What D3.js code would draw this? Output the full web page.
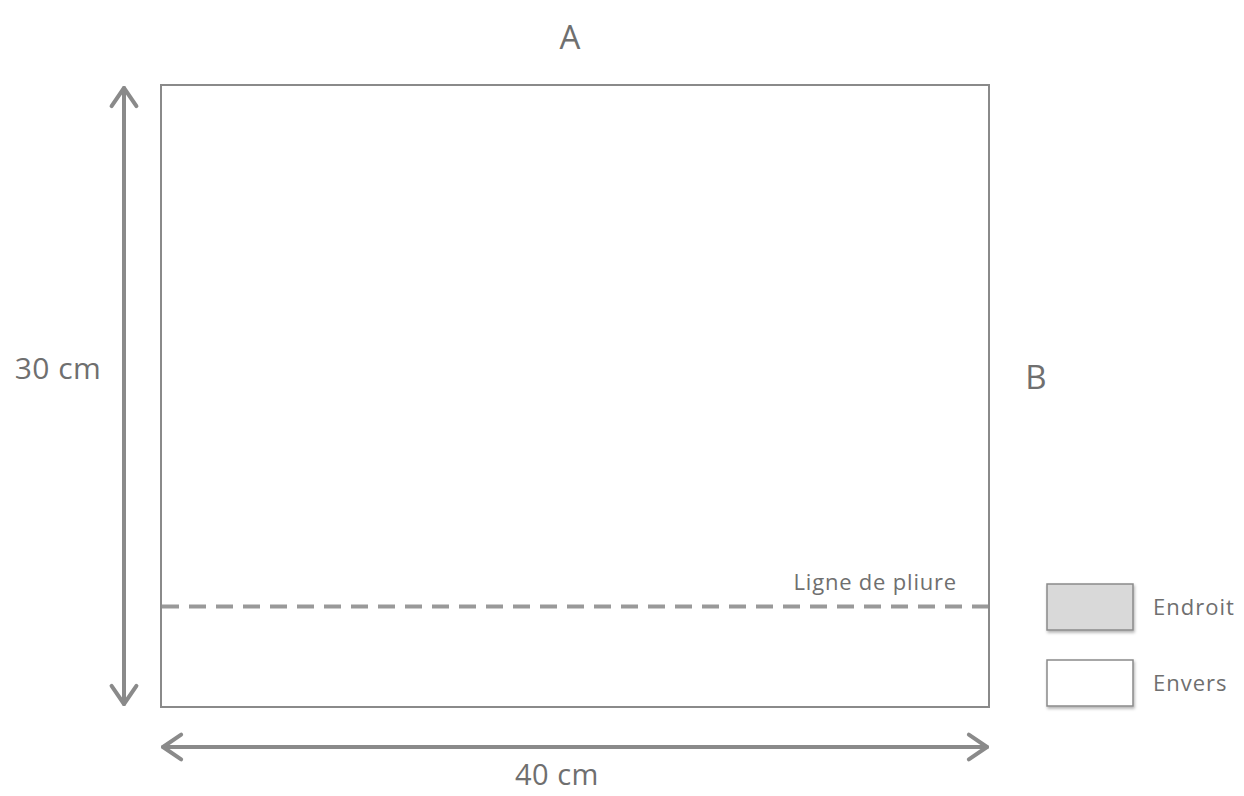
<!DOCTYPE html>
<html>
<head>
<meta charset="utf-8">
<script src="https://cdn.jsdelivr.net/npm/d3@7"></script>
<style>
  body { margin: 0; background: #fff; }
  text { font-family: "Open Sans", "Noto Sans", sans-serif; fill: #6f6f6f; }
</style>
</head>
<body>
<svg id="main-svg"></svg>
<script>
'use strict'

// panel size in cm
var widthCm = [0, 40],
	heightCm = [0, 30];
var foldCm = 4.85;            // fold line, measured from the bottom edge
var sideLabels = ["A", "B"];
var dimLabels = ["40 cm", "30 cm"];
var foldLabel = "Ligne de pliure";
var legendNames = ["Endroit", "Envers"];
var legendFills = ["#d9d9d9", "#ffffff"];

var WIDTH = 1244,
	HEIGHT = 796;

var lineColor = "#8a8a8a";

var svg = d3.select("#main-svg")
	.attr("width", WIDTH)
	.attr("height", HEIGHT)

var defs = svg.append("defs")
defs.append("filter")
	.attr("id", "shadow")
	.attr("x", "-10%").attr("y", "-10%")
	.attr("width", "130%").attr("height", "140%")
	.append("feDropShadow")
	.attr("dx", 1).attr("dy", 2)
	.attr("stdDeviation", 1.5)
	.attr("flood-color", "#000")
	.attr("flood-opacity", 0.3)

var x = d3.scaleLinear().domain(widthCm).range([161, 989]),
	y = d3.scaleLinear().domain(heightCm).range([707, 85]);

// the panel
svg.append("rect")
	.attr("x", x(widthCm[0]))
	.attr("y", y(heightCm[1]))
	.attr("width", x(widthCm[1]) - x(widthCm[0]))
	.attr("height", y(heightCm[0]) - y(heightCm[1]))
	.style("fill", "#fff")
	.style("stroke", lineColor)
	.style("stroke-width", 2)

// fold line
svg.append("line")
	.attr("x1", x(widthCm[0]) + 1)
	.attr("x2", x(widthCm[1]) - 1)
	.attr("y1", y(foldCm))
	.attr("y2", y(foldCm))
	.style("stroke", "#999")
	.style("stroke-width", 4)
	.style("stroke-dasharray", "17 10")

svg.append("text")
	.attr("x", x(widthCm[1]) - 32)
	.attr("y", y(foldCm) - 16)
	.attr("text-anchor", "end")
	.style("font-size", "22px")
	.style("letter-spacing", "0.8px")
	.text(foldLabel)

// dimension arrows
var arrowX = 124,
	arrowY = 747;

function drawArrow(x1, y1, x2, y2) {
	var g = svg.append("g")
		.style("stroke", lineColor)
		.style("stroke-width", 4)
		.style("fill", "none")
		.style("stroke-linecap", "round")
		.style("stroke-linejoin", "round")
	g.append("line").attr("x1", x1).attr("y1", y1).attr("x2", x2).attr("y2", y2)
	var ang = Math.atan2(y2 - y1, x2 - x1),
		len = 22, spread = 0.6;
	[[x1, y1, ang], [x2, y2, ang + Math.PI]].forEach(function(p) {
		var a1 = p[2] + spread, a2 = p[2] - spread;
		g.append("path")
			.attr("d", "M" + (p[0] + len * Math.cos(a1)) + "," + (p[1] + len * Math.sin(a1)) +
				"L" + p[0] + "," + p[1] +
				"L" + (p[0] + len * Math.cos(a2)) + "," + (p[1] + len * Math.sin(a2)))
	})
}

drawArrow(arrowX, y(heightCm[1]) + 3, arrowX, y(heightCm[0]) - 3)
drawArrow(x(widthCm[0]) + 2, arrowY, x(widthCm[1]) - 2, arrowY)

svg.append("text")
	.attr("x", (x(widthCm[0]) + x(widthCm[1])) / 2 - 18)
	.attr("y", 785)
	.attr("text-anchor", "middle")
	.style("font-size", "29px")
	.style("letter-spacing", "0.5px")
	.text(dimLabels[0])

svg.append("text")
	.attr("x", 58)
	.attr("y", 379)
	.attr("text-anchor", "middle")
	.style("font-size", "30px")
	.style("letter-spacing", "0.5px")
	.text(dimLabels[1])

// side letters
svg.append("text")
	.attr("x", 570)
	.attr("y", 49)
	.attr("text-anchor", "middle")
	.style("font-size", "33px")
	.text(sideLabels[0])

svg.append("text")
	.attr("x", 1036)
	.attr("y", 389)
	.attr("text-anchor", "middle")
	.style("font-size", "33px")
	.text(sideLabels[1])

// legend
var legend = svg.selectAll(".legend")
	.data(legendNames)
	.enter().append("g")
	.attr("class", "legend")
	.attr("transform", function(d, i) { return "translate(1047," + (584 + i * 76) + ")" })

legend.append("rect")
	.attr("width", 86)
	.attr("height", 46)
	.style("fill", function(d, i) { return legendFills[i] })
	.style("stroke", lineColor)
	.style("stroke-width", 1.5)
	.attr("filter", "url(#shadow)")

legend.append("text")
	.attr("x", 106)
	.attr("y", 31)
	.style("font-size", "22px")
	.style("letter-spacing", "1px")
	.text(function(d) { return d })
</script>
</body>
</html>
